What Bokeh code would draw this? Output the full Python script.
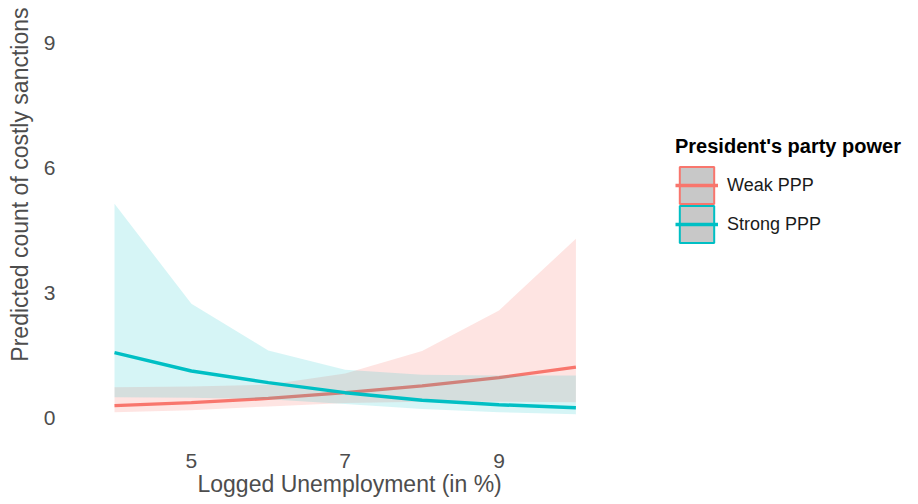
from bokeh.plotting import figure
from bokeh.models import Range1d, FixedTicker, Legend, LegendItem, Title
from bokeh.embed import file_html
from bokeh.resources import INLINE

# ---- data ----
unemployment = [4, 5, 6, 7, 8, 9, 10]

weak_fit = [0.31, 0.38, 0.48, 0.62, 0.78, 0.98, 1.23]
weak_lower = [0.15, 0.20, 0.29, 0.37, 0.40, 0.40, 0.39]
weak_upper = [0.75, 0.77, 0.81, 1.08, 1.62, 2.59, 4.31]

strong_fit = [1.58, 1.14, 0.86, 0.62, 0.44, 0.33, 0.26]
strong_lower = [0.51, 0.50, 0.46, 0.35, 0.23, 0.15, 0.10]
strong_upper = [5.15, 2.75, 1.63, 1.17, 1.05, 1.03, 1.03]

x_ticks = [5, 7, 9]
y_ticks = [0, 3, 6, 9]
group_labels = ["Weak PPP", "Strong PPP"]

WEAK = "#F8766D"
STRONG = "#00BFC4"
TXT = "#4d4d4d"
FONT = "Liberation Sans"

# frame spans to the right edge so the legend can sit inside it
p = figure(width=918, height=504,
           x_range=Range1d(3.701, 14.455), y_range=Range1d(-0.24, 10.024),
           output_backend="svg", toolbar_location=None, title_location=None,
           min_border_left=90, min_border_right=0, min_border_top=0, min_border_bottom=76)

p.outline_line_color = None
p.xgrid.visible = False
p.ygrid.visible = False

for ax in (p.xaxis[0], p.yaxis[0]):
    ax.axis_line_color = None
    ax.major_tick_line_color = None
    ax.minor_tick_line_color = None
    ax.major_tick_out = 0
    ax.major_tick_in = 0
    ax.major_label_text_font_size = "21px"
    ax.major_label_text_color = TXT
    ax.major_label_text_font = FONT

p.xaxis.ticker = FixedTicker(ticks=x_ticks)
p.yaxis.ticker = FixedTicker(ticks=y_ticks)
p.xaxis.major_label_standoff = 25
p.yaxis.major_label_standoff = 36

# weak group: ribbon then line
p.varea(x=unemployment, y1=weak_lower, y2=weak_upper, fill_color=WEAK, fill_alpha=0.2)
weak_line = p.line(unemployment, weak_fit, line_color=WEAK, line_width=3.3)
# strong group: ribbon then line
p.varea(x=unemployment, y1=strong_lower, y2=strong_upper, fill_color=STRONG, fill_alpha=0.16)
strong_line = p.line(unemployment, strong_fit, line_color=STRONG, line_width=3.5)

# legend key boxes (hidden renderers, only drawn in the legend)
weak_key = p.quad(left=unemployment[:1], right=unemployment[:1], top=weak_fit[:1],
                  bottom=weak_fit[:1], fill_color="#c8c8c8", line_color=WEAK, line_width=2)
strong_key = p.quad(left=unemployment[:1], right=unemployment[:1], top=strong_fit[:1],
                    bottom=strong_fit[:1], fill_color="#c8c8c8", line_color=STRONG, line_width=2)
weak_key.visible = False
strong_key.visible = False

common = dict(
    label_text_font_size="18px", label_text_color="#1a1a1a", label_text_font=FONT,
    glyph_width=43, glyph_height=46, label_standoff=9,
    padding=0, margin=0, border_line_color=None, background_fill_alpha=0,
)
legend_top = Legend(
    items=[LegendItem(label=group_labels[0], renderers=[weak_key, weak_line])],
    location=(584, 220),
    title="President's party power",
    title_text_font_style="bold", title_text_font_size="20px", title_text_color="black",
    title_text_font=FONT, title_standoff=4,
    **common,
)
legend_bottom = Legend(
    items=[LegendItem(label=group_labels[1], renderers=[strong_key, strong_line])],
    location=(584, 181),
    **common,
)
p.add_layout(legend_top)
p.add_layout(legend_bottom)

ytitle = Title(text="Predicted count of costly sanctions", align="right", vertical_align="top",
               standoff=12, offset=7, text_font_size="23px", text_font_style="normal",
               text_color=TXT, text_font=FONT)
p.add_layout(ytitle, "left")
xtitle = Title(text="Logged Unemployment (in %)", align="left", offset=106, vertical_align="top",
               standoff=0, text_font_size="23px", text_font_style="normal",
               text_color=TXT, text_font=FONT)
p.add_layout(xtitle, "below")

open("out.html", "w").write(file_html(p, INLINE))
